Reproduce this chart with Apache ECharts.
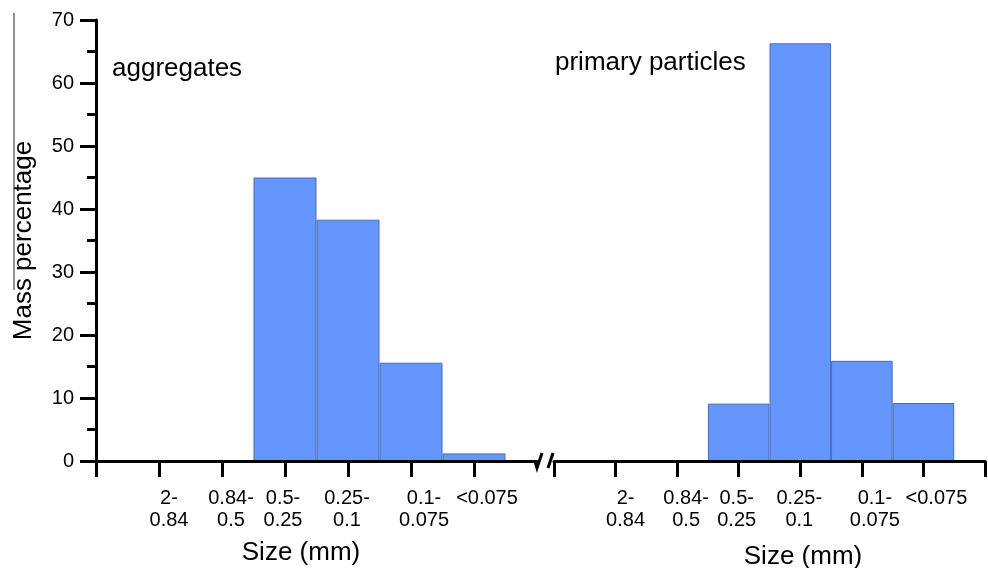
<!DOCTYPE html>
<html>
<head>
<meta charset="utf-8">
<script src="https://cdn.jsdelivr.net/npm/echarts@6/dist/echarts.min.js"></script>
<style>
    html, body { margin: 0; padding: 0; background: #fff; }
    #grafico { width: 988px; height: 568px; }
</style>
</head>
<body>
<div id="grafico"></div>
<script>
// Datos
const categorias = ['2-0.84', '0.84-0.5', '0.5-0.25', '0.25-0.1', '0.1-0.075', '<0.075'];
const agregados = [0, 0, 45.0, 38.3, 15.6, 1.2];
const particulas = [0, 0, 9.1, 66.3, 15.9, 9.2];
const ticksY = [0, 10, 20, 30, 40, 50, 60, 70];

const FUENTE = 'Liberation Sans, Arial, sans-serif';
const AZUL = '#6496fd';
// en el original las etiquetas no quedan centradas en su marca (px a la derecha)
const desplazEtiquetas = [10, 9, -2, -1, 13, 13];

// hueco vacío en el origen y otro en el corte del eje
function datosEje() {
    const items = categorias.map((c, i) => {
        const d = desplazEtiquetas[i];
        return {
            value: c,
            textStyle: {padding: d >= 0 ? [0, 0, 0, 2 * d] : [0, -2 * d, 0, 0]}
        };
    });
    return ['', ...items, ''];
}
const rellenar = valores => [null, ...valores, null];

function ejeX(gridIndex, ocultarUltimo) {
    const datos = datosEje();
    return {
        type: 'category',
        gridIndex: gridIndex,
        data: datos,
        boundaryGap: false,
        z: 5,
        axisLine: {lineStyle: {color: '#000', width: 3}},
        axisTick: {
            length: 16,
            interval: (idx) => !(ocultarUltimo && idx === datos.length - 1),
            lineStyle: {color: '#000', width: 3}
        },
        axisLabel: {
            interval: 0,
            margin: 26,
            color: '#000',
            fontFamily: FUENTE,
            fontSize: 20,
            lineHeight: 22,
            formatter: v => v.replace('-', '-\n')
        },
        splitLine: {show: false}
    };
}

function serieBarras(nombre, valores, indice) {
    return {
        name: nombre,
        type: 'bar',
        xAxisIndex: indice,
        yAxisIndex: indice,
        data: rellenar(valores),
        barWidth: '100%',
        barCategoryGap: '0%',
        z: 2,
        itemStyle: {
            color: AZUL,
            borderColor: '#4a6cae',
            borderWidth: 1
        },
        silent: true
    };
}

const myChart = echarts.init(document.getElementById('grafico'));

const option = {
    backgroundColor: '#fff',
    animation: false,
    grid: [
        {left: 96, top: 20, width: 441, height: 441},
        {left: 554, top: 20, width: 441, height: 441}
    ],
    xAxis: [ejeX(0, true), ejeX(1, false)],
    yAxis: [
        {
            type: 'value',
            gridIndex: 0,
            min: ticksY[0],
            max: ticksY[ticksY.length - 1],
            interval: ticksY[1] - ticksY[0],
            name: 'Mass percentage',
            nameLocation: 'middle',
            nameGap: 59,
            nameTextStyle: {color: '#000', fontFamily: FUENTE, fontSize: 26},
            axisLine: {show: true, lineStyle: {color: '#000', width: 3}},
            axisTick: {show: true, length: 16, lineStyle: {color: '#000', width: 3}},
            minorTick: {show: true, splitNumber: 2, length: 9, lineStyle: {color: '#000', width: 3}},
            axisLabel: {margin: 22, color: '#000', fontFamily: FUENTE, fontSize: 20},
            splitLine: {show: false}
        },
        {
            type: 'value',
            gridIndex: 1,
            min: ticksY[0],
            max: ticksY[ticksY.length - 1],
            interval: ticksY[1] - ticksY[0],
            show: false
        }
    ],
    series: [
        serieBarras('aggregates', agregados, 0),
        serieBarras('primary particles', particulas, 1)
    ],
    graphic: [
        // rótulos de cada panel
        {type: 'text', left: 112, top: 56, style: {text: 'aggregates', font: '26px ' + FUENTE, fill: '#000'}},
        {type: 'text', left: 555, top: 50, style: {text: 'primary particles', font: '26px ' + FUENTE, fill: '#000'}},
        // títulos de los ejes X
        {type: 'text', x: 301, y: 553, style: {text: 'Size (mm)', font: '26px ' + FUENTE, fill: '#000', align: 'center', verticalAlign: 'middle'}},
        {type: 'text', x: 803, y: 557, style: {text: 'Size (mm)', font: '26px ' + FUENTE, fill: '#000', align: 'center', verticalAlign: 'middle'}},
        // marca de corte del eje
        {type: 'polyline', shape: {points: [[535, 461], [537, 468], [542, 453]]}, style: {stroke: '#000', lineWidth: 3, fill: null}},
        {type: 'line', shape: {x1: 548, y1: 468, x2: 553, y2: 453}, style: {stroke: '#000', lineWidth: 3}},
        // raya fina sobre el título del eje Y
        {type: 'line', shape: {x1: 14, y1: 13, x2: 14, y2: 290}, style: {stroke: '#222', lineWidth: 1}}
    ]
};

myChart.setOption(option);
window.addEventListener('resize', () => myChart.resize());
</script>
</body>
</html>
